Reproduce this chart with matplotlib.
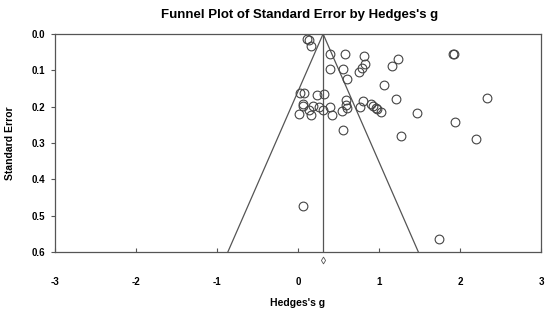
import matplotlib
matplotlib.use('Agg')
import matplotlib.pyplot as plt
import numpy as np

# Hedges's g per study and its standard error
hedges_g = [
    0.115, 0.14, 0.156, 0.40, 0.58, 0.815, 1.91, 1.93, 1.23, 1.16,
    0.83, 0.79, 0.75, 0.40, 0.56, 0.60, 1.065, 0.02, 0.08, 0.24,
    0.325, 1.21, 2.33, 0.59, 0.80, 0.058, 0.066, 0.19, 0.26, 0.40,
    0.59, 0.61, 0.54, 0.77, 0.905, 0.92, 0.96, 0.98, 1.03, 0.13,
    0.31, 0.012, 0.156, 0.42, 1.47, 1.94, 0.56, 1.27, 2.20, 0.062,
    1.745,
]
std_err = [
    0.015, 0.016, 0.033, 0.055, 0.056, 0.061, 0.055, 0.055, 0.070, 0.088,
    0.083, 0.094, 0.105, 0.096, 0.096, 0.125, 0.140, 0.163, 0.163, 0.168,
    0.166, 0.179, 0.175, 0.182, 0.185, 0.193, 0.199, 0.199, 0.202, 0.200,
    0.196, 0.205, 0.211, 0.201, 0.194, 0.199, 0.204, 0.206, 0.214, 0.209,
    0.210, 0.221, 0.223, 0.224, 0.218, 0.243, 0.264, 0.280, 0.288, 0.474,
    0.565,
]

POOLED_G = 0.31
SE_MAX = 0.6
X_TICKS = [-3, -2, -1, 0, 1, 2, 3]
Y_TICKS = [0.0, 0.1, 0.2, 0.3, 0.4, 0.5, 0.6]

GREY = '#555555'
plt.rcParams['font.family'] = ['Liberation Sans', 'DejaVu Sans']
plt.rcParams['font.weight'] = 'bold'

fig = plt.figure(figsize=(5.5, 3.13), dpi=100)
ax = fig.add_axes([0.1, 0.195, 0.8836, 0.6966])

# funnel (95% limits) and pooled-effect line
ax.plot([POOLED_G - 1.96 * SE_MAX, POOLED_G, POOLED_G + 1.96 * SE_MAX],
        [SE_MAX, 0, SE_MAX], color=GREY, lw=0.9)
ax.plot([POOLED_G, POOLED_G], [0, SE_MAX], color=GREY, lw=0.9)

ax.plot(hedges_g, std_err, 'o', mfc='none', mec='#444444', mew=0.8, ms=6.3)

# small diamond for the pooled estimate below the axis
ax.plot([POOLED_G], [0.622], 'd', mfc='none', mec=GREY, mew=0.6, ms=3.5,
        clip_on=False)

ax.set_xlim(-3, 3)
ax.set_ylim(SE_MAX, 0)
ax.set_xticks(X_TICKS)
ax.set_xticklabels([str(t) for t in X_TICKS])
ax.set_yticks(Y_TICKS)
ax.set_yticklabels(['%.1f' % t for t in Y_TICKS])
ax.tick_params(axis='x', direction='in', length=3, pad=18, labelsize=7,
               color=GREY)
ax.tick_params(axis='y', direction='out', length=3, pad=4, labelsize=7,
               color=GREY)
for s in ax.spines.values():
    s.set_color(GREY)
    s.set_linewidth(0.9)

ax.set_xlabel("Hedges's g", fontsize=7.5, fontweight='bold', labelpad=8)
ax.set_ylabel('Standard Error', fontsize=7.5, fontweight='bold', labelpad=12)
fig.text(0.545, 0.952, "Funnel Plot of Standard Error by Hedges's g",
         ha='center', va='center', fontsize=9.5, fontweight='bold')

fig.savefig('out.png', dpi=100)
